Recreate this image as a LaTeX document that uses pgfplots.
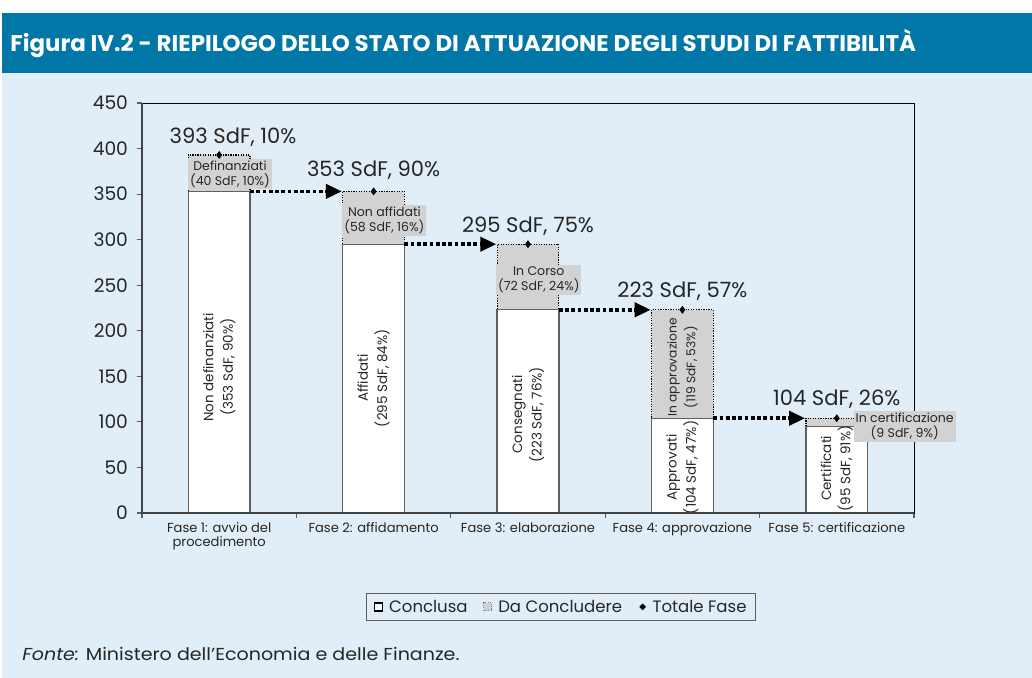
\documentclass[border=0pt]{standalone}
\usepackage{fontspec}
\setmainfont{Poppins}
\usepackage{pgfplots}
\pgfplotsset{compat=1.18}
\usetikzlibrary{arrows.meta,backgrounds}
\definecolor{bgblue}{RGB}{225,238,247}
\definecolor{titleblue}{RGB}{0,119,167}
\definecolor{lgray}{RGB}{210,210,210}
\definecolor{bordergray}{RGB}{95,95,95}
\newcommand\fa{\fontsize{15.8}{18}\selectfont}
\newcommand\fb{\fontsize{9.4}{11.2}\selectfont}
\newcommand\fc{\fontsize{10.1}{14.5}\selectfont}
\begin{document}
\begin{tikzpicture}[x=0.75pt,y=0.75pt]
\begin{axis}[
  scale only axis,
  width=579pt, height=307.5pt,
  xmin=-0.5, xmax=4.5, ymin=0, ymax=450,
  ytick={0,50,...,450},
  xtick={-0.5,0.5,...,4.5}, xticklabels={{},{},{},{},{},{}},
  extra x ticks={0,1,2,3,4},
  extra x tick labels={{Fase 1: avvio del\\procedimento},{Fase 2: affidamento},{Fase 3: elaborazione},{Fase 4: approvazione},{Fase 5: certificazione}},
  extra x tick style={major tick length=0pt, tick label style={align=center, font=\fontsize{9.8}{10.5}\selectfont, inner sep=1pt, yshift=-6pt, text=black!85}},
  tick align=outside, major tick length=4pt, tick pos=left,
  axis line style={black, line width=0.6pt},
  tick style={bordergray, line width=0.9pt},
  y tick label style={font=\fontsize{14}{16}\selectfont, text=black!85, xshift=-3pt},
  /pgf/number format/assume math mode=true,
  clip=false,
  legend style={at={(0.543,-0.229)}, anchor=center, draw=bordergray, fill=bgblue, line width=0.8pt,
     font=\fontsize{12.4}{15}\selectfont, legend columns=3, /tikz/every even column/.append style={column sep=9pt},
     inner xsep=5pt, inner ysep=3pt, text=black!85},
]
\addlegendimage{legend image code/.code={\draw[fill=white, draw=black, line width=1.3pt, solid] (1pt,-3pt) rectangle (7pt,3pt); \path[draw=none, fill=none] (0pt,-0.1pt) rectangle (10pt,0.1pt);}}
\addlegendentry{Conclusa}
\addlegendimage{legend image code/.code={\draw[fill=lgray, draw=gray, densely dotted, line width=0.8pt] (1pt,-3pt) rectangle (7pt,3pt); \path[draw=none, fill=none] (0pt,-0.1pt) rectangle (10pt,0.1pt);}}
\addlegendentry{Da Concludere}
\addlegendimage{legend image code/.code={\path[fill=black, draw=none] (2pt,0pt) -- (4.5pt,2.5pt) -- (7pt,0pt) -- (4.5pt,-2.5pt) -- cycle; \path[draw=none, fill=none] (0pt,-0.1pt) rectangle (10pt,0.1pt);}}
\addlegendentry{Totale Fase}
% Da concludere (total height)
\addplot[ybar, bar width=0.4, bar shift=0pt, fill=lgray, draw=black, densely dotted, line width=0.9pt, forget plot]
  coordinates {(0,393) (1,353) (2,295) (3,223) (4,104)};
% Conclusa
\addplot[ybar, bar width=0.4, bar shift=0pt, fill=white, draw=bordergray, line width=1pt, forget plot]
  coordinates {(0,353) (1,295) (2,223) (3,104) (4,95)};
% arrows
\addplot[forget plot, black, line width=2.8pt, dash pattern=on 2.8pt off 1.9pt, -{Triangle[length=12pt,width=10.5pt]}] coordinates {(0.2,353) (0.795,353)};
\addplot[forget plot, black, line width=2.8pt, dash pattern=on 2.8pt off 1.9pt, -{Triangle[length=12pt,width=10.5pt]}] coordinates {(1.2,295) (1.795,295)};
\addplot[forget plot, black, line width=2.8pt, dash pattern=on 2.8pt off 1.9pt, -{Triangle[length=12pt,width=10.5pt]}] coordinates {(2.2,223) (2.795,223)};
\addplot[forget plot, black, line width=2.8pt, dash pattern=on 2.8pt off 1.9pt, -{Triangle[length=12pt,width=10.5pt]}] coordinates {(3.2,104) (3.795,104)};
% totals
\addplot[forget plot, only marks, mark=diamond*, mark size=2.6pt, black] coordinates {(0,393) (1,353) (2,295) (3,223) (4,104)};
% gray labels
\node[fill=lgray, align=center, font=\fb, inner sep=1.5pt, text=black!85] at (axis cs:0.07,372) {Definanziati\\(40 SdF, 10\%)};
\node[fill=lgray, align=center, font=\fb, inner sep=1.5pt, text=black!85] at (axis cs:1.07,321) {Non affidati\\(58 SdF, 16\%)};
\node[fill=lgray, align=center, font=\fb, inner sep=1.5pt, text=black!85] at (axis cs:2.07,256) {In Corso\\(72 SdF, 24\%)};
\node[align=center, font=\fontsize{9.2}{14}\selectfont, inner sep=1pt, rotate=90, text=black!85] at (axis cs:3,160) {In approvazione\\(119 SdF, 53\%)};
\node[fill=lgray, align=center, font=\fb, inner sep=1.5pt, text=black!85] at (axis cs:4.44,95) {In certificazione\\(9 SdF, 9\%)};
% white bar labels
\node[align=center, font=\fc, rotate=90, text=black!85] at (axis cs:0,160) {Non definanziati\\(353 SdF, 90\%)};
\node[align=center, font=\fc, rotate=90, text=black!85] at (axis cs:1,148) {Affidati\\(295 SdF, 84\%)};
\node[align=center, font=\fc, rotate=90, text=black!85] at (axis cs:2,108) {Consegnati\\(223 SdF, 76\%)};
\node[align=center, font=\fc, rotate=90, text=black!85] at (axis cs:3,50) {Approvati\\(104 SdF, 47\%)};
\node[align=center, font=\fc, rotate=90, text=black!85] at (axis cs:4,49) {Certificati\\(95 SdF, 91\%)};
% totals labels
\node[font=\fa, text=black!85] at (axis cs:0.09,412) {393 SdF, 10\%};
\node[font=\fa, text=black!85] at (axis cs:1,376) {353 SdF, 90\%};
\node[font=\fa, text=black!85] at (axis cs:2,315) {295 SdF, 75\%};
\node[font=\fa, text=black!85] at (axis cs:3,243) {223 SdF, 57\%};
\node[font=\fa, text=black!85] at (axis cs:4,125) {104 SdF, 26\%};
% axis emphasis
\draw[bordergray!70!black, line width=1.4pt] (rel axis cs:0,1) -- (rel axis cs:0,0) -- (rel axis cs:1,0);
\coordinate (O) at (rel axis cs:0,0);
\end{axis}
\begin{scope}[on background layer, shift={(O)}]
\fill[white] (-142,-165) rectangle (890,513);
\fill[bgblue] (-140,-165) rectangle (890,440);
\fill[titleblue] (-140,440) rectangle (890,500);
\end{scope}
\begin{scope}[shift={(O)}]
\node[anchor=base west, text=white, font=\bfseries\fontsize{17}{19}\selectfont, inner sep=0pt] at (-132,461) {\scalebox{1.01}[1]{Figura IV.2 - RIEPILOGO DELLO STATO DI ATTUAZIONE DEGLI STUDI DI FATTIBILITÀ}};
\node[anchor=base west, font=\fontsize{13}{15}\selectfont, inner sep=0pt, text=black!85] at (-120,-147) {\scalebox{1.1}[1]{\textit{Fonte:} Ministero dell’Economia e delle Finanze.}};
\end{scope}
\pgfresetboundingbox
\path[shift={(O)}] (-142,-165) rectangle (890,513);
\end{tikzpicture}
\end{document}
